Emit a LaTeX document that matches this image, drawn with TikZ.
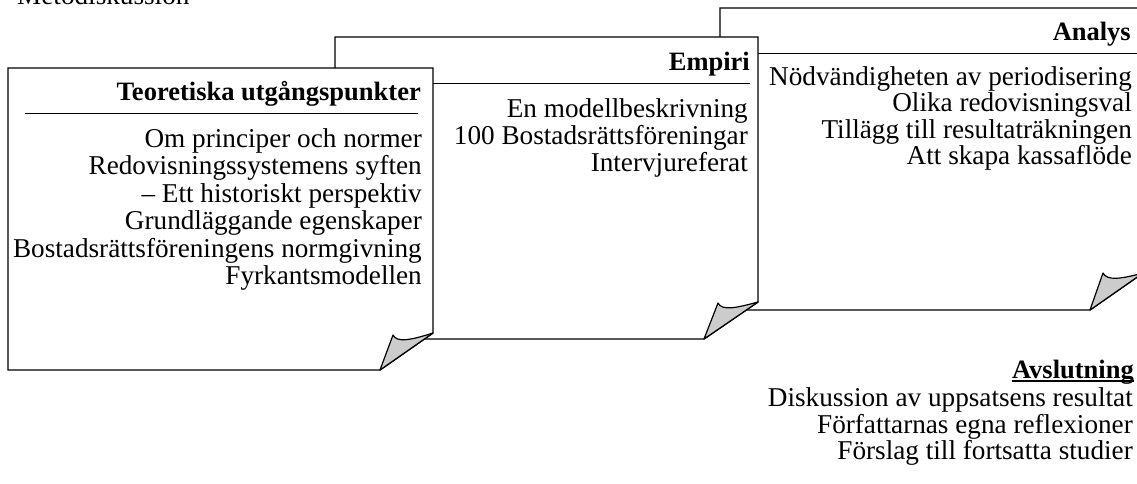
\documentclass[tikz,border=0pt]{standalone}
\usepackage{fontspec}
\setmainfont{Liberation Serif}
\newcommand\bodysize{\fontsize{27.2}{27}\selectfont}
\newcommand\headsize{\fontsize{26.5}{27}\selectfont}
\tikzset{
  page/.style={fill=white, draw=black, line width=1.4pt, line join=miter},
  fold/.style={fill=gray!40, draw=black, line width=1.2pt, line join=round},
  headrule/.style={draw=black, line width=0.9pt},
  head/.style={anchor=base east, inner sep=0pt, font=\headsize\bfseries},
  item/.style={anchor=base east, inner sep=0pt, font=\bodysize},
}
\begin{document}
\begin{tikzpicture}[x=1pt, y=-1pt]
\useasboundingbox (0,0) rectangle (1137,483);
\clip (0,0) rectangle (1137,483);

% heading of the chapter above the sheets
\node[anchor=base west, inner sep=0pt, font=\bodysize] (metod) at (17,4) {Metodiskussion};

% ---- sheet 3: Analys (back) ----
\coordinate (t3) at (1090,310);
\coordinate (u3) at (1103,273);
\coordinate (r3) at (1143,273);
\draw[page] (720,8) -- (1143,8) -- (r3) -- (t3) -- (720,310) -- cycle;
\draw[fold] (t3) -- (u3) .. controls (1107,281) and (1121,279) .. (r3) -- cycle;
\draw[headrule] (737,53) -- (1140,53);
\node[head] (h3) at (1131,40) {Analys};
\foreach \t [count=\i from 0] in {Nödvändigheten av periodisering, Olika redovisningsval,
  Tillägg till resultaträkningen, Att skapa kassaflöde}
  \node[item] (a\i) at (1132,85+26.5*\i) {\t};

% ---- sheet 2: Empiri (middle) ----
\coordinate (t2) at (704,339);
\coordinate (u2) at (718,303);
\coordinate (r2) at (758,302);
\draw[page] (335,37) -- (758,37) -- (r2) -- (t2) -- (335,339) -- cycle;
\draw[fold] (t2) -- (u2) .. controls (722,311) and (736,308) .. (r2) -- cycle;
\draw[headrule] (352,83) -- (750,83);
\node[head] (h2) at (750,70) {Empiri};
\foreach \t [count=\i from 0] in {En modellbeskrivning, 100 Bostadsrättsföreningar, Intervjureferat}
  \node[item] (e\i) at (748,117+27*\i) {\t};

% ---- sheet 1: Teoretiska utgångspunkter (front) ----
\coordinate (t1) at (380,370);
\coordinate (u1) at (393,335);
\coordinate (r1) at (433,333);
\draw[page] (8,68) -- (433,68) -- (r1) -- (t1) -- (8,370) -- cycle;
\draw[fold] (t1) -- (u1) .. controls (397,343) and (411,340) .. (r1) -- cycle;
\draw[headrule] (25,113) -- (418,113);
\node[head] (h1) at (421,100) {Teoretiska utgångspunkter};
\foreach \t [count=\i from 0] in {Om principer och normer, Redovisningssystemens syften,
  \textendash{} Ett historiskt perspektiv, Grundläggande egenskaper,
  Bostadsrättsföreningens normgivning, Fyrkantsmodellen}
  \node[item] (p\i) at (422,147+27.5*\i) {\t};

% ---- closing chapter ----
\node[head] (h4) at (1134,378) {Avslutning};
\draw[line width=1.5pt] ([yshift=-3pt]h4.base west) -- ([yshift=-3pt]h4.base east);
\foreach \t [count=\i from 1] in {Diskussion av uppsatsens resultat, Författarnas egna reflexioner,
  Förslag till fortsatta studier}
  \node[item] (s\i) at (1133,380+26.5*\i) {\t};
\end{tikzpicture}
\end{document}
